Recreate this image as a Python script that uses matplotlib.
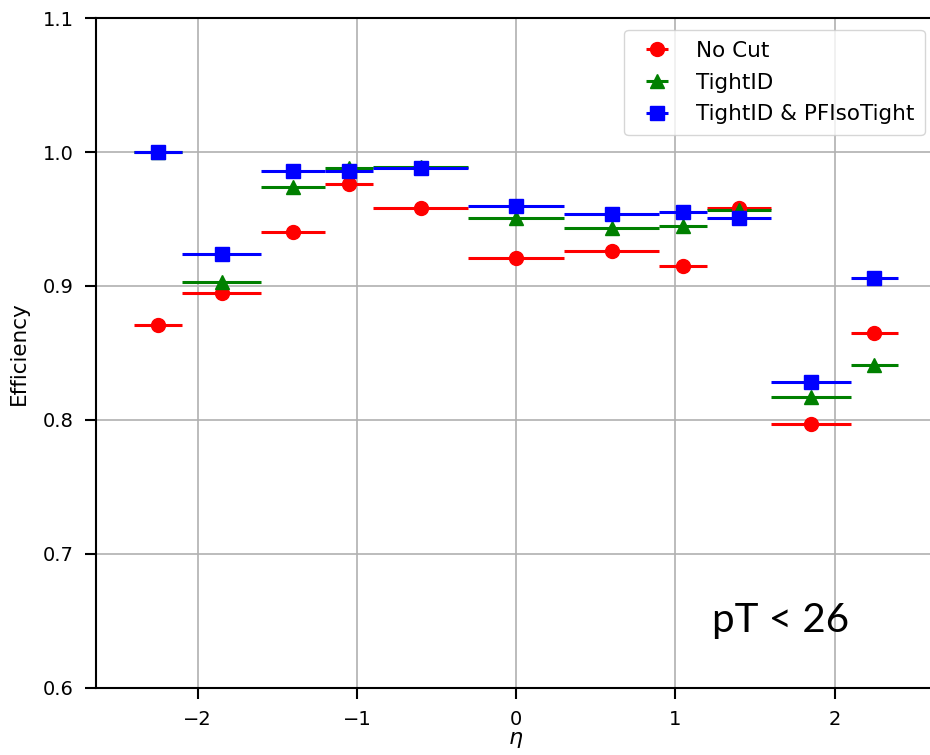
import numpy as np
import matplotlib
matplotlib.use("Agg")
import matplotlib.pyplot as plt

# eta bins
bin_edges = [-2.4, -2.1, -1.6, -1.2, -0.9, -0.3, 0.3, 0.9, 1.2, 1.6, 2.1, 2.4]

eff_nocut = [0.871, 0.895, 0.940, 0.976, 0.958, 0.921, 0.926, 0.915, 0.958, 0.797, 0.865]
eff_tightid = [1.000, 0.903, 0.974, 0.988, 0.989, 0.951, 0.943, 0.945, 0.957, 0.817, 0.841]
eff_tightiso = [1.000, 0.924, 0.986, 0.986, 0.988, 0.960, 0.954, 0.955, 0.951, 0.828, 0.906]

edges = np.array(bin_edges)
centers = (edges[:-1] + edges[1:]) / 2
halfw = (edges[1:] - edges[:-1]) / 2

fig = plt.figure(figsize=(9.3, 7.55), dpi=100)
ax = fig.add_axes([0.103, 0.089, 0.904, 0.887])

ax.errorbar(centers, eff_nocut, xerr=halfw, fmt='o', color='red', markersize=10, elinewidth=2.2, label='No Cut')
ax.errorbar(centers, eff_tightid, xerr=halfw, fmt='^', color='green', markersize=10, elinewidth=2.2, label='TightID')
ax.errorbar(centers, eff_tightiso, xerr=halfw, fmt='s', color='blue', markersize=10, elinewidth=2.2, label='TightID & PFIsoTight')

ax.set_ylim(0.6, 1.1)
ax.set_xlim(-2.64, 2.64)
ax.grid(True, color='#b0b0b0', linewidth=1.2)
ax.tick_params(labelsize=14, width=1.5, length=8, pad=8)
for s in ax.spines.values():
    s.set_linewidth(1.5)
ax.set_xlabel(r'$\eta$', fontsize=16, labelpad=1)
ax.set_ylabel('Efficiency', fontsize=15.5, labelpad=10)
ax.legend(loc='upper right', fontsize=15.5, borderpad=0.5, labelspacing=0.55,
          borderaxespad=0.55)

ax.text(0.733, 0.0836, 'pT < 26', transform=ax.transAxes, fontsize=29, family='Lato', va='baseline')

fig.savefig('out.png', dpi=100)
